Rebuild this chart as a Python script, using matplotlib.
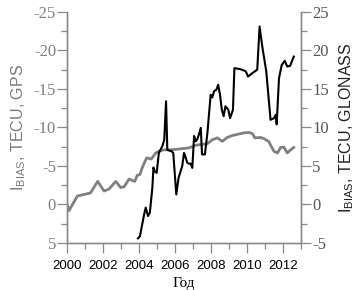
import matplotlib
matplotlib.use("Agg")
import matplotlib.pyplot as plt
from matplotlib.ticker import MultipleLocator

plt.rcParams["axes.unicode_minus"] = False

# GPS (left axis, inverted)
gps_year = [2000.0, 2000.1, 2000.57, 2000.94, 2001.3, 2001.7, 2002.05, 2002.33, 2002.7,
            2002.98, 2003.17, 2003.44, 2003.76, 2003.9, 2004.05, 2004.18, 2004.42, 2004.68,
            2004.93, 2005.1, 2005.4, 2005.8, 2006.22, 2006.78, 2007.15, 2007.5, 2007.8,
            2008.07, 2008.35, 2008.63, 2008.9, 2009.18, 2009.46, 2009.83, 2010.1, 2010.3,
            2010.44, 2010.76, 2010.94, 2011.2, 2011.5, 2011.7, 2011.87, 2012.05, 2012.24,
            2012.43, 2012.6]
gps_bias = [0.0, 0.8, -1.1, -1.3, -1.5, -3.0, -1.75, -2.0, -3.0,
            -2.2, -2.3, -3.3, -3.0, -3.8, -3.9, -4.8, -6.05, -5.9,
            -6.7, -6.9, -7.1, -7.1, -7.2, -7.35, -7.7, -7.8, -7.9,
            -8.4, -8.65, -8.2, -8.7, -8.95, -9.1, -9.3, -9.35, -9.2,
            -8.65, -8.7, -8.55, -8.2, -6.9, -6.7, -7.4, -7.45, -6.7,
            -7.1, -7.4]

# GLONASS (right axis)
glo_year = [2003.94, 2004.05, 2004.28, 2004.37, 2004.5, 2004.6, 2004.74, 2004.8, 2004.87,
            2004.98, 2005.1, 2005.3, 2005.4, 2005.5, 2005.57, 2005.8, 2005.9, 2006.07,
            2006.2, 2006.4, 2006.5, 2006.6, 2006.68, 2006.78, 2006.87, 2006.96, 2007.06,
            2007.15, 2007.24, 2007.33, 2007.43, 2007.5, 2007.66, 2007.8, 2007.98, 2008.07,
            2008.17, 2008.3, 2008.4, 2008.5, 2008.6, 2008.7, 2008.8, 2008.96, 2009.06,
            2009.22, 2009.3, 2009.65, 2009.93, 2010.06, 2010.3, 2010.57, 2010.7, 2010.85,
            2011.07, 2011.31, 2011.5, 2011.6, 2011.65, 2011.78, 2011.93, 2012.1, 2012.24,
            2012.4, 2012.6]
glo_bias = [-4.4, -4.1, -1.3, -0.4, -1.5, -1.05, 2.2, 4.8, 4.3,
            4.1, 6.7, 7.6, 8.4, 13.4, 7.1, 6.9, 6.7, 1.3,
            3.5, 5.0, 6.7, 6.05, 5.4, 5.3, 5.3, 4.75, 8.9,
            8.2, 8.5, 9.1, 9.95, 6.5, 6.5, 9.3, 14.25, 13.9,
            14.7, 14.9, 15.55, 14.25, 12.3, 11.45, 12.75, 12.3, 11.2,
            12.3, 17.7, 17.55, 17.3, 16.6, 17.05, 17.5, 23.1, 20.5,
            17.3, 11.0, 11.2, 11.65, 10.4, 16.4, 18.1, 18.65, 17.9,
            18.0, 19.2]

xticks = [2000, 2002, 2004, 2006, 2008, 2010, 2012]
gray = "#808080"
spine_c = "#8a8a8a"

fig = plt.figure(figsize=(3.57, 2.90), dpi=100)
ax = fig.add_axes([0.188, 0.162, 0.655, 0.797])
ax2 = ax.twinx()

ax.plot(gps_year, gps_bias, color=gray, lw=2.0, solid_joinstyle="round")
ax2.plot(glo_year, glo_bias, color="black", lw=1.5, solid_joinstyle="round")

ax.set_xlim(2000, 2013)
ax.set_ylim(5, -25)
ax2.set_ylim(-5, 25)

ax.set_xticks(xticks)
ax.set_xticklabels([str(t) for t in xticks], fontfamily="Liberation Sans", fontsize=9.5, color="black")
ax.xaxis.set_minor_locator(MultipleLocator(1))
ax.yaxis.set_major_locator(MultipleLocator(5))
ax.yaxis.set_minor_locator(MultipleLocator(2.5))
ax2.yaxis.set_major_locator(MultipleLocator(5))
ax2.yaxis.set_minor_locator(MultipleLocator(2.5))

for a in (ax, ax2):
    a.spines["top"].set_visible(False)
    for s in ("left", "right", "bottom"):
        a.spines[s].set_color(spine_c)
        a.spines[s].set_linewidth(1.0)
    a.tick_params(which="major", length=7, width=0.9, color=spine_c)
    a.tick_params(which="minor", length=4, width=0.9, color=spine_c)

ax.tick_params(axis="x", which="major", pad=5)
for lab in ax.get_yticklabels():
    lab.set_fontfamily("Liberation Serif")
    lab.set_fontsize(12)
    lab.set_color(gray)
ax.tick_params(axis="y", pad=1)
for lab in ax2.get_yticklabels():
    lab.set_fontfamily("Liberation Serif")
    lab.set_fontsize(12)
    lab.set_color("#555555")
ax2.tick_params(axis="y", pad=1)

ax.set_xlabel("Год", fontfamily="Liberation Serif", fontsize=11, labelpad=4)
ax.set_ylabel(r"$\mathregular{I_{BIAS}}$, TECU, GPS", fontfamily="Liberation Sans",
              fontsize=11.5, color="#7a7a7a", labelpad=4)
ax2.set_ylabel(r"$\mathregular{I_{BIAS}}$, TECU, GLONASS", fontfamily="Liberation Sans",
               fontsize=11.5, color="#222222", rotation=90, labelpad=6)

fig.savefig("out.png", dpi=100)
